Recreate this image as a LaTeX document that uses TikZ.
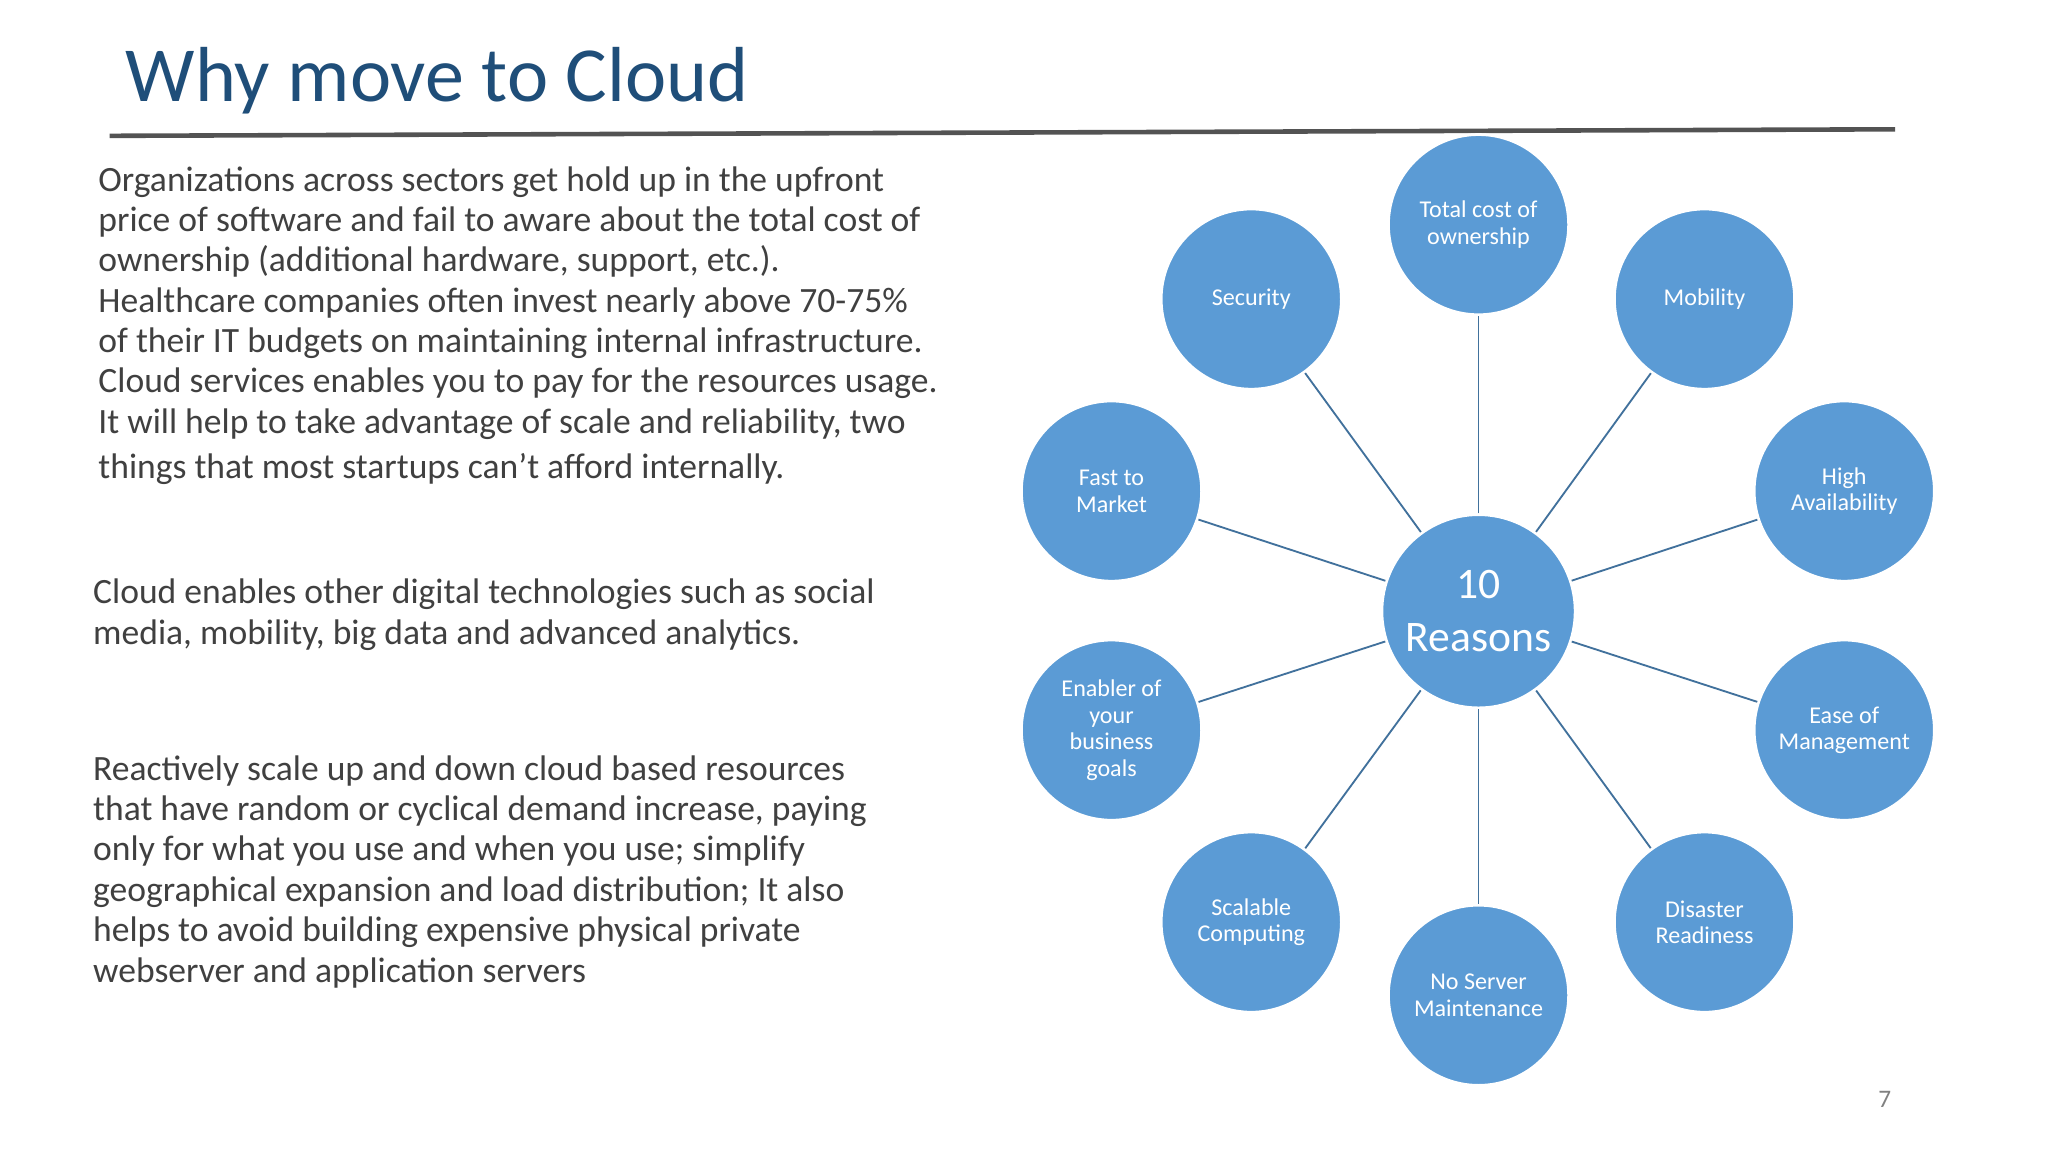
\documentclass[tikz,border=0pt]{standalone}
\usepackage{fontspec}
\setmainfont{Carlito}
\begin{document}
\begin{tikzpicture}[x=0.02cm,y=-0.02cm,
  reason/.style={circle,fill=cblue,draw=white,line width=1.2pt,minimum size=2.76cm,inner sep=0pt,text=white,align=center,font=\fontsize{10.5}{11.6}\selectfont},
  link/.style={draw=lblue,line width=0.8pt},
  body/.style={anchor=north west,inner sep=0pt,align=left,text=tgray,font=\fontsize{15.5}{17.6}\selectfont}]
\definecolor{cblue}{HTML}{5B9BD5}
\definecolor{lblue}{HTML}{41719C}
\definecolor{tgray}{HTML}{404040}
\definecolor{ttl}{HTML}{1F4E79}
\useasboundingbox (0,0) rectangle (1568,882);
\fill[white] (0,0) rectangle (1568,882);
\node[anchor=west,text=ttl,font=\fontsize{34}{40}\selectfont,inner sep=0pt] (title) at (96,62) {Why move to Cloud};
\coordinate (l1) at (84,104); \coordinate (l2) at (1451,99);
\draw[line width=2pt,draw=tgray!90] (l1) -- (l2);
\node[body] (p1) at (75,127) {Organizations across sectors get hold up in the upfront\\price of software and fail to aware about the total cost of\\ownership (additional hardware, support, etc.).\\Healthcare companies often invest nearly above 70-75\%\\of their IT budgets on maintaining internal infrastructure.\\Cloud services enables you to pay for the resources usage.\\It will help to take advantage of scale and reliability, two\\[2pt]things that most startups can’t afford internally.};
\node[body] (p2) at (71,443) {Cloud enables other digital technologies such as social\\media, mobility, big data and advanced analytics.};
\node[body] (p3) at (71,578) {Reactively scale up and down cloud based resources\\that have random or cyclical demand increase, paying\\only for what you use and when you use; simplify\\geographical expansion and load distribution; It also\\helps to avoid building expensive physical private\\webserver and application servers};
\node[text=gray,font=\fontsize{11}{13}\selectfont] (pg) at (1443,842) {7};
\node[reason,minimum size=2.96cm,font=\fontsize{19}{23}\selectfont] (c) at (1132,468) {10\\Reasons};
\node[reason] (a1) at (1132,172) {Total cost of\\ownership};
\node[reason] (a2) at (958,229) {Security};
\node[reason] (a3) at (1305,229) {Mobility};
\node[reason] (a4) at (851,376) {Fast to\\Market};
\node[reason] (a5) at (1412,376) {High\\Availability};
\node[reason] (a6) at (851,559) {Enabler of\\your\\business\\goals};
\node[reason] (a7) at (1412,559) {Ease of\\Management};
\node[reason] (a8) at (958,706) {Scalable\\Computing};
\node[reason] (a9) at (1305,706) {Disaster\\Readiness};
\node[reason] (a10) at (1132,762) {No Server\\Maintenance};
\foreach \n in {a1,a2,a3,a4,a5,a6,a7,a8,a9,a10} \draw[link] (c) -- (\n);
\end{tikzpicture}
\end{document}
